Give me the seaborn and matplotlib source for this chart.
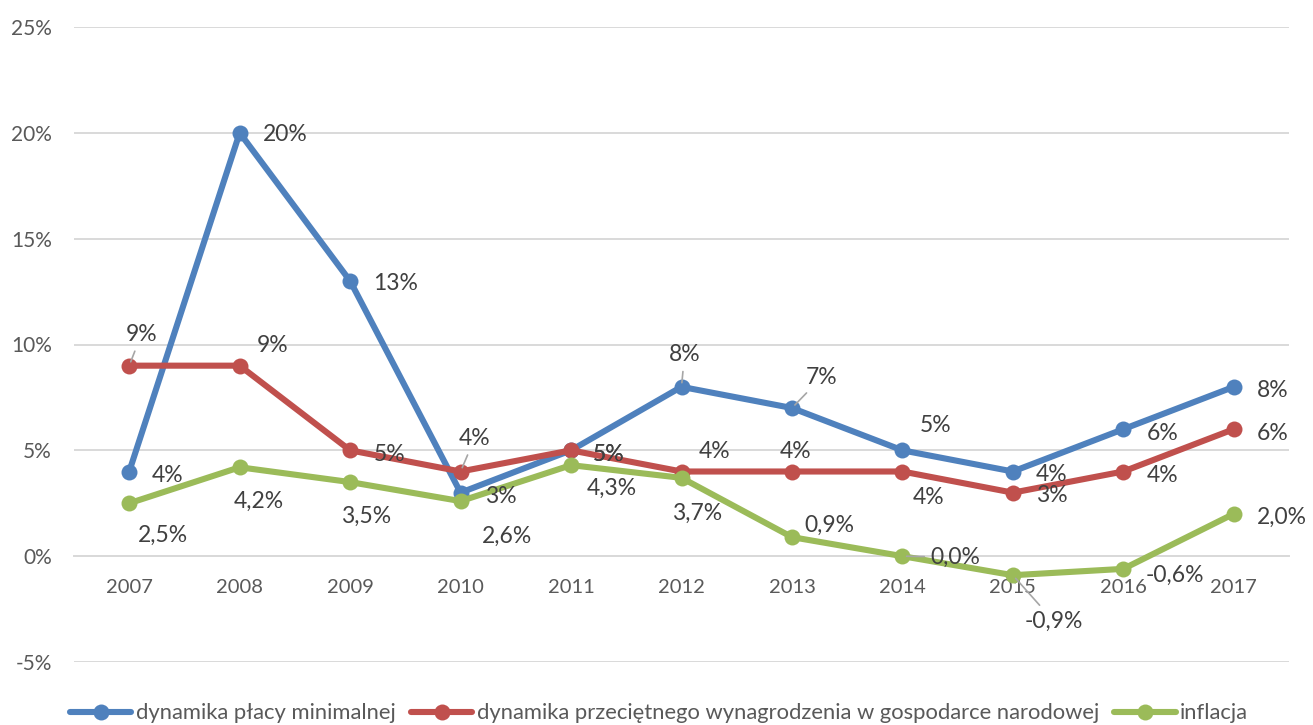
import pandas as pd
import matplotlib.pyplot as plt
import seaborn as sns
from matplotlib.ticker import FuncFormatter

# Data (values in %).
years = ['2007', '2008', '2009', '2010', '2011', '2012', '2013', '2014', '2015', '2016', '2017']
min_wage = [4, 20, 13, 3, 5, 8, 7, 5, 4, 6, 8]
avg_wage = [9, 9, 5, 4, 5, 4, 4, 4, 3, 4, 6]
inflation = [2.5, 4.2, 3.5, 2.6, 4.3, 3.7, 0.9, 0.0, -0.9, -0.6, 2.0]
labels = ['dynamika płacy minimalnej',
          'dynamika przeciętnego wynagrodzenia w gospodarce narodowej',
          'inflacja']

colors = ['#4F81BD', '#C0504D', '#9BBB59']

# label placement (pixel offsets from the point, y up) and which labels get a leader line
offs_min = [(38, -2), (46, 0), (45, -1), (40, -2), (38, -2), (3, 34), (30, 33), (33, 27), (39, -1), (39, -2), (39, -2)]
offs_avg = [(12, 33), (33, 22), (39, -2), (14, 35), (38, -2), (33, 22), (4, 22), (26, -24), (39, -1), (39, -2), (39, -2)]
offs_inf = [(34, -30), (19, -32), (16, -32), (46, -33), (41, -21), (16, -33), (37, 14), (53, 1), (41, -44), (52, -4), (48, -2)]
lead_min = [5, 6]
lead_avg = [0, 3]
lead_inf = [7, 8]

sns.set_theme(style='white')
plt.rcParams['font.family'] = ['Lato', 'DejaVu Sans']

fig = plt.figure(figsize=(13.13, 7.25), dpi=100)
ax = fig.add_axes([74 / 1313, 63 / 725, (1289 - 74) / 1313, (662 - 27) / 725])

pos = list(range(len(years)))
series = [min_wage, avg_wage, inflation]
for vals, lab, col in zip(series, labels, colors):
    df = pd.DataFrame({'pos': pos, 'val': vals})
    sns.lineplot(data=df, x='pos', y='val', color=col, label=lab, ax=ax,
                 linewidth=4.4, marker='o', markersize=11.5, markeredgewidth=0, zorder=3)

# data labels
for vals, offs, leads, fmt in zip(series, [offs_min, offs_avg, offs_inf], [lead_min, lead_avg, lead_inf],
                                  ['{:.0f}%', '{:.0f}%', '{:.1f}%']):
    for i, v in enumerate(vals):
        txt = fmt.format(v).replace('.', ',')
        arrow = None
        if i in leads:
            arrow = dict(arrowstyle='-', color='#A6A6A6', lw=1.2, shrinkA=2, shrinkB=3)
        ax.annotate(txt, xy=(i, v), xytext=offs[i], textcoords='offset pixels',
                    ha='center', va='center_baseline', fontsize=16.5, color='#404040', zorder=5,
                    bbox=dict(boxstyle='square,pad=0.15', fc='none', ec='none'),
                    arrowprops=arrow)

ax.set_xlim(-0.5, 10.5)
ax.set_ylim(-5, 25)
ax.set_xticks(pos)
ax.set_xticklabels(years)
ax.set_yticks([-5, 0, 5, 10, 15, 20, 25])
ax.yaxis.set_major_formatter(FuncFormatter(lambda v, p: f'{v:.0f}%'))
ax.set_xlabel('')
ax.set_ylabel('')

ax.grid(axis='y', color='#D9D9D9', linewidth=1.4)
ax.grid(axis='x', visible=False)
for s in ['left', 'right', 'top']:
    ax.spines[s].set_visible(False)
ax.spines['bottom'].set_position(('data', 0))
ax.spines['bottom'].set_color('#D9D9D9')
ax.spines['bottom'].set_linewidth(1.4)
ax.tick_params(axis='x', length=0, pad=16.5, labelsize=14.5, labelcolor='#595959')
ax.tick_params(axis='y', length=0, pad=16, labelsize=15, labelcolor='#595959')

handles, labs = ax.get_legend_handles_labels()
ax.get_legend().remove()
fig.legend(handles, labs, loc='center', bbox_to_anchor=(0.502, 0.016), ncol=3, frameon=False,
           fontsize=15.8, labelcolor='#595959', handlelength=2.8, handletextpad=0.2,
           columnspacing=0.7)

plt.savefig('out.png', dpi=100)
